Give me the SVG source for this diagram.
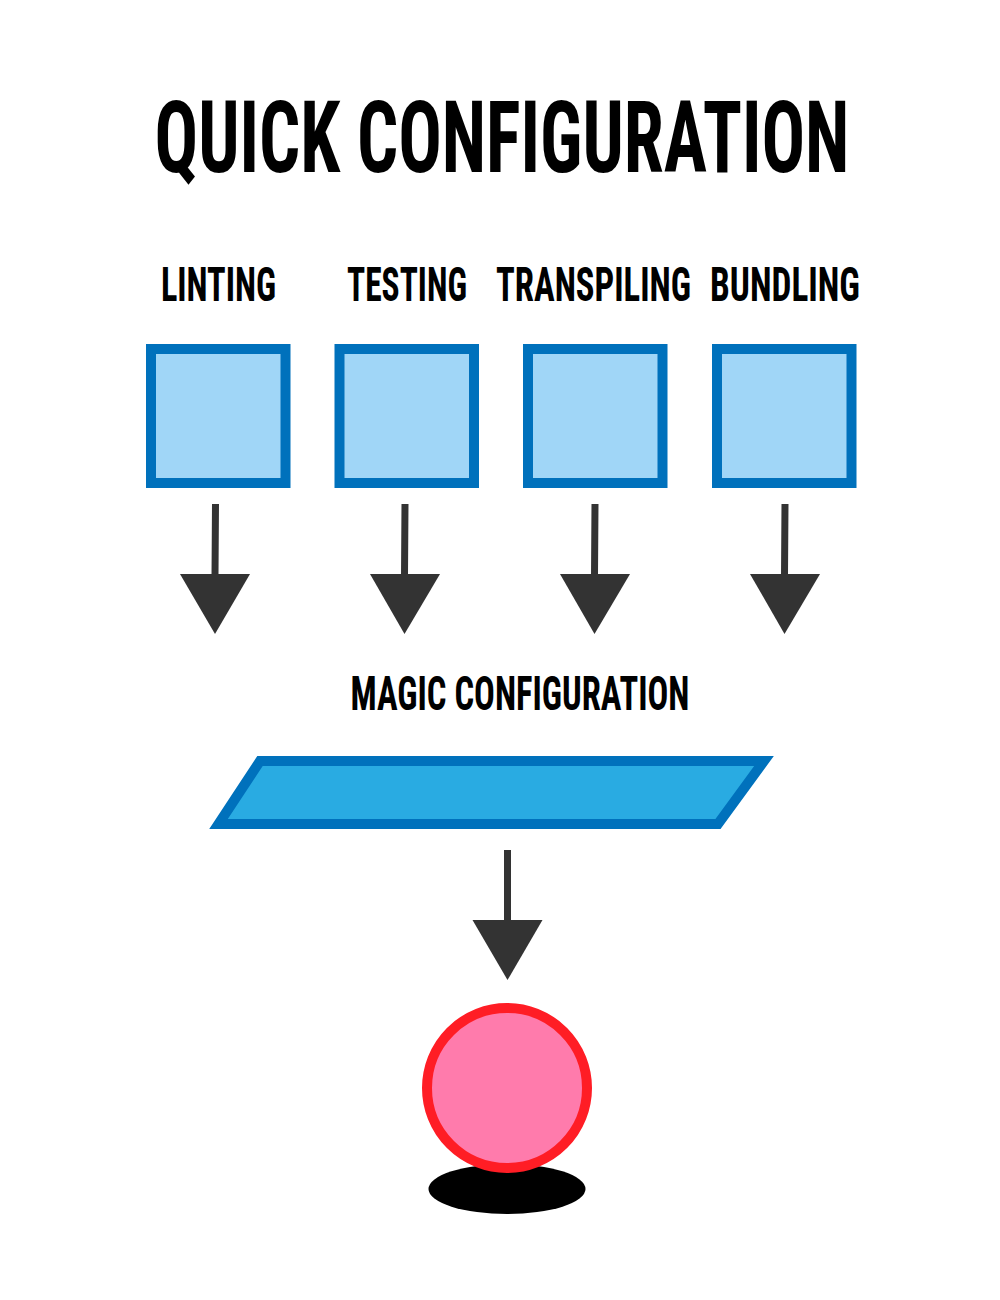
<svg xmlns="http://www.w3.org/2000/svg" width="1000" height="1300" viewBox="0 0 1000 1300">
<style>
text{font-family:"Roboto Condensed","Liberation Sans Narrow","Liberation Sans",Roboto,sans-serif;font-weight:700;fill:#000;text-anchor:middle}
.lab{font-size:48px}
.box{fill:#a0d6f7;stroke:#0071bc;stroke-width:10}
.shaft{stroke:#333;stroke-width:7;fill:none}
.head{fill:#333}
</style>
<rect width="1000" height="1300" fill="#fff"/>
<text transform="translate(502 172) scale(.6 1)" font-size="101" textLength="1158" lengthAdjust="spacingAndGlyphs">QUICK CONFIGURATION</text>
<g id="linting"><text class="lab" transform="translate(218.500 301) scale(.6 1)" textLength="192" lengthAdjust="spacingAndGlyphs">LINTING</text><rect class="box" x="151" y="349" width="134.500" height="134"/></g>
<g id="testing"><text class="lab" transform="translate(407 301) scale(.6 1)" textLength="200" lengthAdjust="spacingAndGlyphs">TESTING</text><rect class="box" x="339.500" y="349" width="134.500" height="134"/></g>
<g id="transpiling"><text class="lab" transform="translate(593.500 301) scale(.6 1)" textLength="325" lengthAdjust="spacingAndGlyphs">TRANSPILING</text><rect class="box" x="528" y="349" width="134.500" height="134"/></g>
<g id="bundling"><text class="lab" transform="translate(785 301) scale(.6 1)" textLength="250" lengthAdjust="spacingAndGlyphs">BUNDLING</text><rect class="box" x="717" y="349" width="134.500" height="134"/></g>
<g id="magic"><text class="lab" transform="translate(520 710) scale(.6 1)" textLength="565" lengthAdjust="spacingAndGlyphs">MAGIC CONFIGURATION</text><polygon points="260,761 764,761 718,824 218.500,824" fill="#29abe2" stroke="#0071bc" stroke-width="10"/></g>
<g id="connectors">
<path class="shaft" d="M215.500 504L215 576M405 504L404.500 576M595 504L594.500 576M785 504L784.500 576M507.500 850L507.500 922"/>
<polygon class="head" points="180,574 250,574 215,634"/>
<polygon class="head" points="370,574 440,574 404.500,634"/>
<polygon class="head" points="560,574 630,574 594.500,634"/>
<polygon class="head" points="750,574 820,574 784.500,634"/>
<polygon class="head" points="472.500,920 542.500,920 507.500,980"/>
</g>
<g id="ball"><ellipse cx="507" cy="1189" rx="78.500" ry="25" fill="#000"/><circle cx="507" cy="1088" r="80" fill="#ff7bac" stroke="#ff1d25" stroke-width="10"/></g>
</svg>
